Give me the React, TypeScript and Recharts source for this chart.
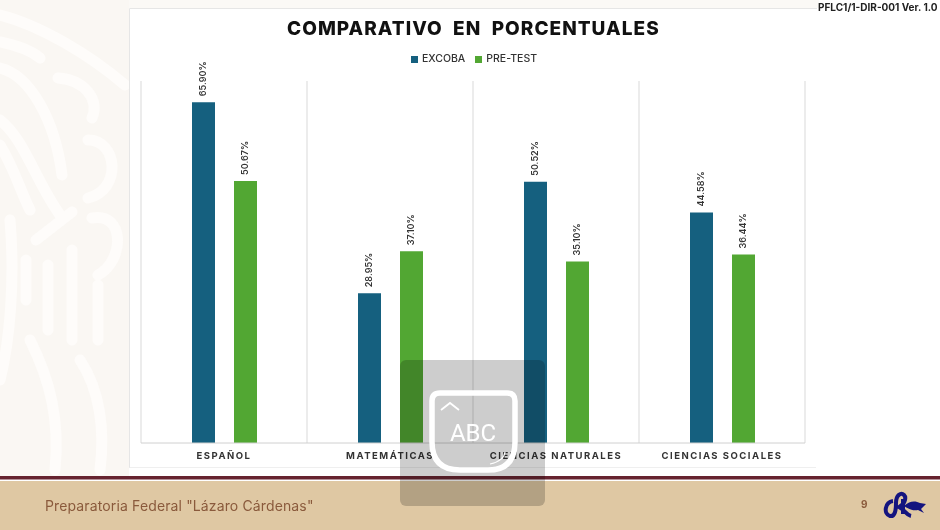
import React from "react";
import { BarChart, Bar, XAxis, YAxis, CartesianGrid, Legend, LabelList } from "recharts";

const categories = ["ESPAÑOL", "MATEMÁTICAS", "CIENCIAS NATURALES", "CIENCIAS SOCIALES"];
const excoba = [65.9, 28.95, 50.52, 44.58];
const preTest = [50.67, 37.1, 35.1, 36.44];
const yDomain = [0, 70];

const data = categories.map((name, i) => ({ name, excoba: excoba[i], preTest: preTest[i] }));

const FONT = "Inter, 'Open Sans', sans-serif";

const RotatedLabel = (props: any) => {
  const { x, y, width, value } = props;
  const cx = x + width / 2;
  const cy = y - 6;
  return (
    <text
      x={cx}
      y={cy}
      transform={`rotate(-90 ${cx} ${cy})`}
      dy={3}
      fontFamily={FONT}
      fontSize={9}
      fontWeight={600}
      fill="#333"
      textAnchor="start"
    >
      {value.toFixed(2)}%
    </text>
  );
};

const Backdrop = () => (
  <svg width={940} height={530} style={{ position: "absolute", left: 0, top: 0 }}>
    <rect width={940} height={530} fill="#fff" />
    <rect width={129} height={476} fill="#faf7f3" />
    <rect x={129} width={690} height={8} fill="#fbf9f6" />
    <g fill="none" stroke="#fefcfa" strokeWidth={11} strokeLinecap="round">
      <path d="M0 15 C40 25 90 55 125 85" />
      <path d="M0 42 C15 45 30 50 40 58" />
      <path d="M0 68 C30 75 55 120 62 175" />
      <path d="M0 120 C25 140 35 180 60 215" />
      <path d="M0 145 C15 170 20 190 30 210" />
      <path d="M58 78 C85 80 100 100 92 118" />
      <path d="M88 140 C118 140 122 190 88 198" />
      <path d="M92 218 C125 212 125 260 98 275" />
      <path d="M36 240 L72 212" />
      <path d="M26 260 L26 300 M48 265 L48 330 M72 250 L72 340 M98 285 L98 340" />
      <path d="M10 220 C15 280 10 340 0 380" />
      <path d="M30 340 C50 380 60 420 55 470" />
      <path d="M80 360 C100 390 105 430 100 470" />
    </g>
    <rect x={129.5} y={8.5} width={700} height={459} fill="#fff" />
    <path d="M129.5 468 V8.5 H817" fill="none" stroke="#e6e6e6" />
    <path d="M129.5 467.5 H816" fill="none" stroke="#efefef" />
    <rect y={476} width={940} height={3.5} fill="#66232f" />
    <rect y={481} width={940} height={49} fill="#dfc8a3" />
  </svg>
);

const Logo = () => (
  <svg width={50} height={34} style={{ position: "absolute", left: 880, top: 490 }}>
    <g fill="none" stroke="#14147f" strokeWidth={4}>
      <path d="M13 11 C5 12 3 24 10 26 C15 27 16 20 16 13 C16 5 21 2 24 5 C27 8 24 15 19 17 C25 20 26 25 31 26" />
      <path d="M23 9 L23 24" />
    </g>
    <path d="M24 16 C30 10 36 11 40 13 L46 14 L41 19 L44 23 L38 20 C34 21 30 20 24 16 Z" fill="#14147f" />
  </svg>
);

const Overlay = () => (
  <>
    <div style={{ position: "absolute", left: 400, top: 360, width: 145, height: 146, background: "#cdcdcd", mixBlendMode: "multiply", borderRadius: 6 }} />
    <svg width={145} height={146} style={{ position: "absolute", left: 400, top: 360 }}>
      <path
        d="M40 33 H107 Q115 33 115 41 V82 Q115 110 88 110 H60 Q32 110 32 82 V41 Q32 33 40 33 Z"
        fill="none"
        stroke="#fff"
        strokeWidth={5.5}
      />
      <path d="M41 50 L50 43 L59 50" fill="none" stroke="#fff" strokeWidth={1.8} />
      <path d="M105 92 Q104 101 90 104" fill="none" stroke="#fff" strokeWidth={1.2} />
      <text x={73} y={81} textAnchor="middle" fontFamily="Roboto, sans-serif" fontSize={24} fill="#fff">
        ABC
      </text>
    </svg>
  </>
);

export default function App() {
  return (
    <div style={{ position: "fixed", left: 0, top: 0, width: 940, height: 530, overflow: "hidden", fontFamily: FONT }}>
      <Backdrop />
      <div style={{ position: "absolute", left: 0, top: 0 }}>
        <BarChart
          width={940}
          height={530}
          data={data}
          margin={{ top: 68, right: 135, bottom: 57, left: 141 }}
          barSize={23}
          barGap={19}
        >
          <CartesianGrid
            horizontal={false}
            stroke="#d9d9d9"
            verticalCoordinatesGenerator={({ offset }: any) =>
              categories.map((_, i) => offset.left + (i * offset.width) / categories.length).concat(offset.left + offset.width)
            }
          />
          <XAxis
            dataKey="name"
            interval={0}
            axisLine={{ stroke: "#d0d0d0" }}
            tickLine={false}
            height={30}
            tick={{ fill: "#333", fontSize: 9.5, fontWeight: 700, letterSpacing: 1.5, fontFamily: FONT, dy: 1 }}
          />
          <YAxis hide domain={yDomain} width={0} />
          <Legend
            verticalAlign="top"
            iconType="square"
            iconSize={7}
            wrapperStyle={{ position: "absolute", left: 345, top: 52, width: 268, fontSize: 10.5, fontWeight: 500 }}
            formatter={(value: string) => <span style={{ color: "#333" }}>{value}</span>}
          />
          <Bar dataKey="excoba" name="EXCOBA" fill="#15607f" isAnimationActive={false}>
            <LabelList dataKey="excoba" content={RotatedLabel} />
          </Bar>
          <Bar dataKey="preTest" name="PRE-TEST" fill="#52a733" isAnimationActive={false}>
            <LabelList dataKey="preTest" content={RotatedLabel} />
          </Bar>
        </BarChart>
      </div>
      <div style={{ position: "absolute", left: 287, top: 17, fontSize: 19, fontWeight: 800, color: "#111", letterSpacing: 1.03, whiteSpace: "pre" }}>
        COMPARATIVO  EN  PORCENTUALES
      </div>
      <div style={{ position: "absolute", left: 818, top: 1, fontSize: 10, fontWeight: 700, color: "#222", whiteSpace: "pre" }}>
        PFLC1/1-DIR-001 Ver. 1.0
      </div>
      <div style={{ position: "absolute", left: 45, top: 497, fontSize: 14, letterSpacing: 0.13, color: "#8a5a3c", whiteSpace: "pre" }}>
        Preparatoria Federal "Lázaro Cárdenas"
      </div>
      <div style={{ position: "absolute", left: 861, top: 498, fontSize: 10, fontWeight: 700, color: "#8a5a3c" }}>9</div>
      <Logo />
      <Overlay />
    </div>
  );
}
